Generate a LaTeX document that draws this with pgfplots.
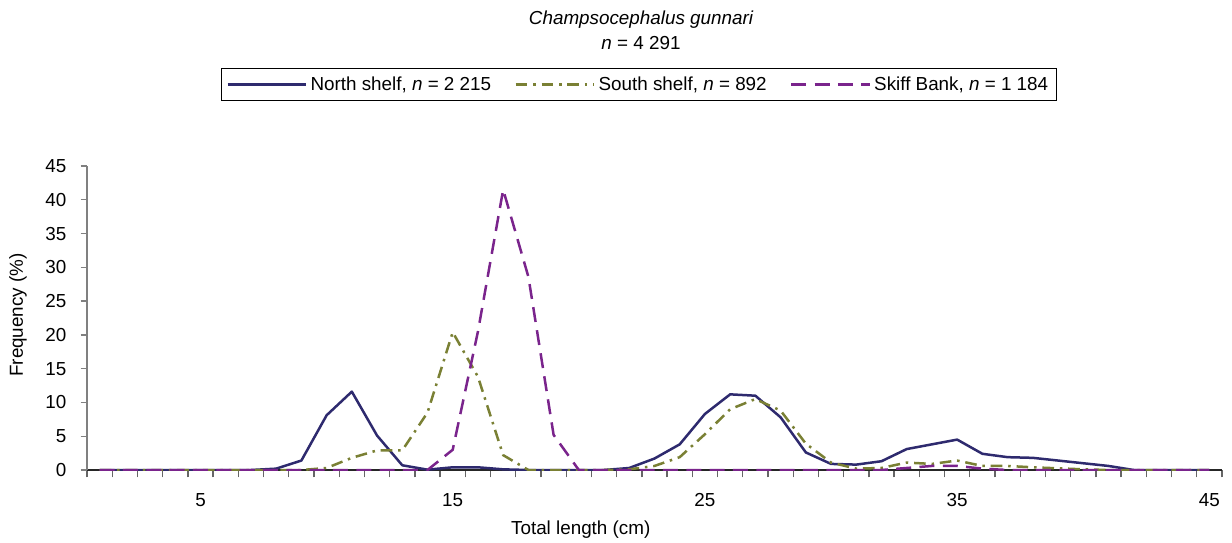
\documentclass[border=0pt]{standalone}
\usepackage{pgfplots}
\pgfplotsset{compat=1.18}
\usepackage{fontspec}
\setmainfont{Liberation Sans}
\definecolor{cnorth}{HTML}{2E2A6E}
\definecolor{csouth}{HTML}{7A8034}
\definecolor{cskiff}{HTML}{7A248C}
\newcommand{\fs}{\fontsize{11.3}{13.5}\selectfont}
\begin{document}
\begin{tikzpicture}[x=1pt,y=1pt]
\useasboundingbox (0,0) rectangle (739.2,325.2);
\begin{axis}[
  at={(52.2pt,43.2pt)}, anchor=south west,
  scale only axis, width=681pt, height=182.4pt,
  xmin=0.5, xmax=45.5, ymin=0, ymax=45,
  axis x line*=bottom, axis y line*=left,
  axis line style={-},
  x axis line style={black!85, line width=0.8pt},
  y axis line style={gray, line width=0.8pt},
  xtick={5,15,25,35,45},
  minor xtick={0.5,1.5,...,45.5},
  major x tick style={draw=none},
  minor x tick style={gray!80!black, line width=0.8pt},
  minor tick length=4.4pt,
  ytick={0,5,...,45},
  y tick style={gray, line width=0.8pt},
  major tick length=3.8pt,
  tick align=outside,
  /pgf/number format/assume math mode=true,
  ticklabel style={font=\fs},
  xticklabel style={anchor=center, yshift=-14pt},
  yticklabel style={anchor=east, xshift=-5pt},
  xlabel={Total length (cm)},
  ylabel={Frequency (\%)},
  label style={font=\fs},
  xlabel style={at={(axis description cs:0.435,-0.197)}, anchor=center},
  ylabel style={at={(axis description cs:-0.0608,0.51)}, anchor=center},
  legend columns=3,
  legend style={at={(axis description cs:0.4863,1.268)}, anchor=center,
    draw=black, line width=0.6pt, font=\fs,
    inner xsep=3pt, inner ysep=2.5pt,
    /tikz/every even column/.append style={column sep=12pt}},
  legend image code/.code={\draw[#1] (0pt,0pt) -- (47pt,0pt);},
  legend cell align=left,
]
\addplot[cnorth, line width=1.5pt, line join=round] coordinates {
(1,0)(2,0)(3,0)(4,0)(5,0)(6,0)(7,0)(8,0.2)(9,1.4)(10,8.1)
(11,11.6)(12,5.1)(13,0.7)(14,0.05)(15,0.4)(16,0.4)(17,0.1)(18,0)(19,0)(20,0)
(21,0)(22,0.3)(23,1.7)(24,3.8)(25,8.3)(26,11.2)(27,11.0)(28,7.8)(29,2.6)(30,0.9)
(31,0.8)(32,1.3)(33,3.1)(34,3.8)(35,4.5)(36,2.4)(37,1.9)(38,1.8)(39,1.4)(40,1.0)
(41,0.6)(42,0)(43,0)(44,0)(45,0)};
\addlegendentry{North shelf, \textit{n} = 2 215}
\addplot[csouth, line width=1.5pt, dash pattern=on 7pt off 3.5pt on 1.5pt off 3.5pt] coordinates {
(1,0)(2,0)(3,0)(4,0)(5,0)(6,0)(7,0)(8,0)(9,0)(10,0.3)
(11,1.8)(12,2.9)(13,2.9)(14,8.5)(15,20.4)(16,13.8)(17,2.2)(18,0)(19,0)(20,0)
(21,0)(22,0.1)(23,0.6)(24,1.9)(25,5.3)(26,9.0)(27,10.5)(28,8.8)(29,3.9)(30,1.1)
(31,0.2)(32,0.3)(33,1.1)(34,0.9)(35,1.4)(36,0.6)(37,0.6)(38,0.4)(39,0.25)(40,0.1)
(41,0)(42,0)(43,0)(44,0)(45,0)};
\addlegendentry{South shelf, \textit{n} = 892}
\addplot[cskiff, line width=1.5pt, dash pattern=on 9pt off 5pt] coordinates {
(1,0)(2,0)(3,0)(4,0)(5,0)(6,0)(7,0)(8,0)(9,0)(10,0)
(11,0)(12,0)(13,0)(14,0)(15,3.0)(16,20.5)(17,41.5)(18,28.6)(19,5.2)(20,0)
(21,0)(22,0)(23,0)(24,0)(25,0)(26,0)(27,0)(28,0)(29,0)(30,0)
(31,0)(32,0)(33,0.3)(34,0.6)(35,0.6)(36,0.2)(37,0)(38,0)(39,0)(40,0)
(41,0)(42,0)(43,0)(44,0)(45,0)};
\addlegendentry{Skiff Bank, \textit{n} = 1 184}
\end{axis}
\node[font=\itshape\fs] at (384.6,313.2) {Champsocephalus gunnari};
\node[font=\fs] at (384.6,299.4) {\textit{n} = 4 291};
\end{tikzpicture}
\end{document}
